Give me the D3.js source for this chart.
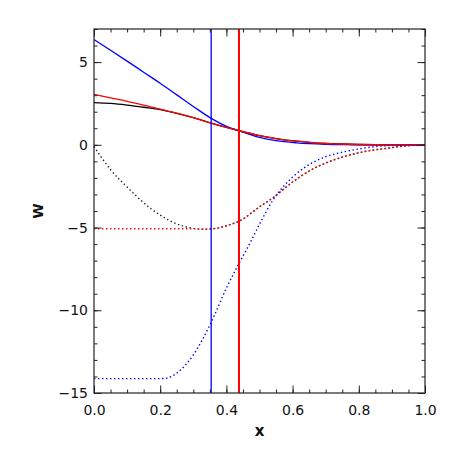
<!DOCTYPE html>
<html>
<head>
<meta charset="utf-8">
<script src="https://cdn.jsdelivr.net/npm/d3@7"></script>
<style>
  body { margin: 0; background: #fff; }
  svg text { font-family: "DejaVu Sans", sans-serif; fill: #111; }
</style>
</head>
<body>
<svg id="chart" width="453" height="453"></svg>
<script>
const WIDTH  = 453;
const HEIGHT = 453;
const MARGIN = { top: 29, right: 28, bottom: 60, left: 94 };

// x positions of the two vertical markers
const markers = [
    { x: 0.354, color: '#0000ff', width: 1.3 },
    { x: 0.438, color: '#ff0000', width: 2 }
];

// solid curves: [x, W]
const blackSolid = [
    [0, 2.55], [0.05, 2.5], [0.1, 2.4], [0.15, 2.27], [0.2, 2.13], [0.25, 1.9],
    [0.3, 1.64], [0.354, 1.31], [0.4, 1.05], [0.438, 0.85], [0.5, 0.56], [0.55, 0.38],
    [0.612, 0.22], [0.65, 0.15], [0.7, 0.08], [0.743, 0.05], [0.8, 0.02], [0.9, 0], [1, 0]
];
const redSolid = [
    [0, 3.05], [0.05, 2.84], [0.1, 2.63], [0.15, 2.4], [0.2, 2.16], [0.25, 1.91],
    [0.3, 1.64], [0.354, 1.31], [0.4, 1.05], [0.438, 0.85], [0.5, 0.56], [0.55, 0.38],
    [0.612, 0.22], [0.65, 0.15], [0.7, 0.08], [0.743, 0.05], [0.8, 0.02], [0.9, 0], [1, 0]
];
const blueSolid = [
    [0, 6.36], [0.05, 5.72], [0.1, 5.06], [0.15, 4.39], [0.2, 3.72], [0.25, 3.02],
    [0.3, 2.32], [0.354, 1.6], [0.4, 1.12], [0.438, 0.85], [0.5, 0.45], [0.55, 0.25],
    [0.612, 0.12], [0.65, 0.07], [0.7, 0.03], [0.75, 0.01], [0.8, 0], [0.9, 0], [1, 0]
];

// dotted curves: [x, W]
const blackDotted = [
    [0, -0.1], [0.05, -1.5], [0.1, -2.55], [0.15, -3.5], [0.2, -4.25], [0.25, -4.78],
    [0.3, -5.05], [0.33, -5.1], [0.36, -5.07], [0.411, -4.82], [0.438, -4.62], [0.5, -3.75],
    [0.542, -3.18], [0.6, -2.25], [0.662, -1.45], [0.713, -1.0], [0.8, -0.48], [0.9, -0.17],
    [0.95, -0.05], [1, 0]
];
const redDotted = [
    [0, -5.07], [0.1, -5.07], [0.2, -5.07], [0.3, -5.08], [0.33, -5.1], [0.36, -5.07],
    [0.411, -4.82], [0.438, -4.62], [0.5, -3.75], [0.542, -3.18], [0.6, -2.25], [0.662, -1.45],
    [0.713, -1.0], [0.8, -0.48], [0.9, -0.17], [0.95, -0.05], [1, 0]
];
const blueDotted = [
    [0, -14.13], [0.1, -14.13], [0.2, -14.13], [0.22, -14.1], [0.25, -13.8], [0.3, -12.7],
    [0.35, -10.9], [0.4, -8.66], [0.436, -7.24], [0.471, -5.95], [0.5, -4.8], [0.542, -3.3],
    [0.6, -1.95], [0.662, -1.06], [0.7, -0.72], [0.743, -0.48], [0.8, -0.25], [0.864, -0.08],
    [0.9, -0.04], [1, 0]
];

const xTicks      = [0, 0.2, 0.4, 0.6, 0.8, 1.0];
const yTicks      = [-15, -10, -5, 0, 5];
const xMinorTicks = d3.range(0, 1.0001, 0.05);
const yMinorTicks = d3.range(-15, 7.0001, 1);

const svg = d3.select('#chart');
const innerW = WIDTH - MARGIN.left - MARGIN.right;
const innerH = HEIGHT - MARGIN.top - MARGIN.bottom;

const x = d3.scaleLinear().domain([0, 1]).range([0, innerW]);
const y = d3.scaleLinear().domain([-15, 7]).range([innerH, 0]);

const g = svg.append('g').attr('transform', `translate(${MARGIN.left},${MARGIN.top})`);

const line = d3.line()
    .x(d => x(d[0]))
    .y(d => y(d[1]))
    .curve(d3.curveMonotoneX);

// dotted curves first
[[blackDotted, '#222'], [blueDotted, '#0000ff'], [redDotted, '#ff0000']].forEach(([data, color]) => {
    g.append('path')
        .attr('d', line(data))
        .attr('fill', 'none')
        .attr('stroke', color)
        .attr('stroke-width', 1.4)
        .attr('stroke-dasharray', '1.4,2.6');
});

// solid curves
[[blackSolid, '#000'], [blueSolid, '#0000ff'], [redSolid, '#ff0000']].forEach(([data, color]) => {
    g.append('path')
        .attr('d', line(data))
        .attr('fill', 'none')
        .attr('stroke', color)
        .attr('stroke-width', 1.3);
});

// vertical markers
g.selectAll('line.marker')
    .data(markers)
    .join('line')
    .attr('class', 'marker')
    .attr('x1', d => x(d.x))
    .attr('x2', d => x(d.x))
    .attr('y1', 0)
    .attr('y2', innerH)
    .attr('stroke', d => d.color)
    .attr('stroke-width', d => d.width);

// axes: ticks point inward on all four sides
function styleAxis (sel) {
    sel.select('.domain').remove();
    sel.selectAll('line').attr('stroke', '#222').attr('stroke-width', 1);
    sel.selectAll('text')
        .style('font-size', '14px')
        .attr('fill', '#111');
}

g.append('g').attr('transform', `translate(0,${innerH})`)
    .call(d3.axisBottom(x).tickValues(xMinorTicks).tickSize(-3.5).tickFormat(''))
    .call(styleAxis);
g.append('g').attr('transform', `translate(0,${innerH})`)
    .call(d3.axisBottom(x).tickValues(xTicks).tickSize(-7.5).tickPadding(12).tickFormat(d3.format('.1f')))
    .call(styleAxis);
g.append('g')
    .call(d3.axisTop(x).tickValues(xMinorTicks).tickSize(-3.5).tickFormat(''))
    .call(styleAxis);
g.append('g')
    .call(d3.axisTop(x).tickValues(xTicks).tickSize(-7.5).tickFormat(''))
    .call(styleAxis);

g.append('g')
    .call(d3.axisLeft(y).tickValues(yMinorTicks).tickSize(-3.5).tickFormat(''))
    .call(styleAxis);
g.append('g')
    .call(d3.axisLeft(y).tickValues(yTicks).tickSize(-7.5).tickPadding(6).tickFormat(d => d3.format('d')(d).replace('-', '\u2212')))
    .call(styleAxis);
g.append('g').attr('transform', `translate(${innerW},0)`)
    .call(d3.axisRight(y).tickValues(yMinorTicks).tickSize(-3.5).tickFormat(''))
    .call(styleAxis);
g.append('g').attr('transform', `translate(${innerW},0)`)
    .call(d3.axisRight(y).tickValues(yTicks).tickSize(-7.5).tickFormat(''))
    .call(styleAxis);

// frame
g.append('rect')
    .attr('width', innerW)
    .attr('height', innerH)
    .attr('fill', 'none')
    .attr('stroke', '#222')
    .attr('stroke-width', 1.2);

// axis titles
svg.append('text')
    .attr('x', MARGIN.left + innerW / 2)
    .attr('y', 436)
    .attr('text-anchor', 'middle')
    .style('font-size', '15px')
    .style('font-weight', 'bold')
    .text('x');

svg.append('text')
    .attr('transform', `translate(43,${MARGIN.top + innerH / 2}) rotate(-90)`)
    .attr('text-anchor', 'middle')
    .style('font-size', '14px')
    .style('font-weight', 'bold')
    .text('W');
</script>
</body>
</html>
